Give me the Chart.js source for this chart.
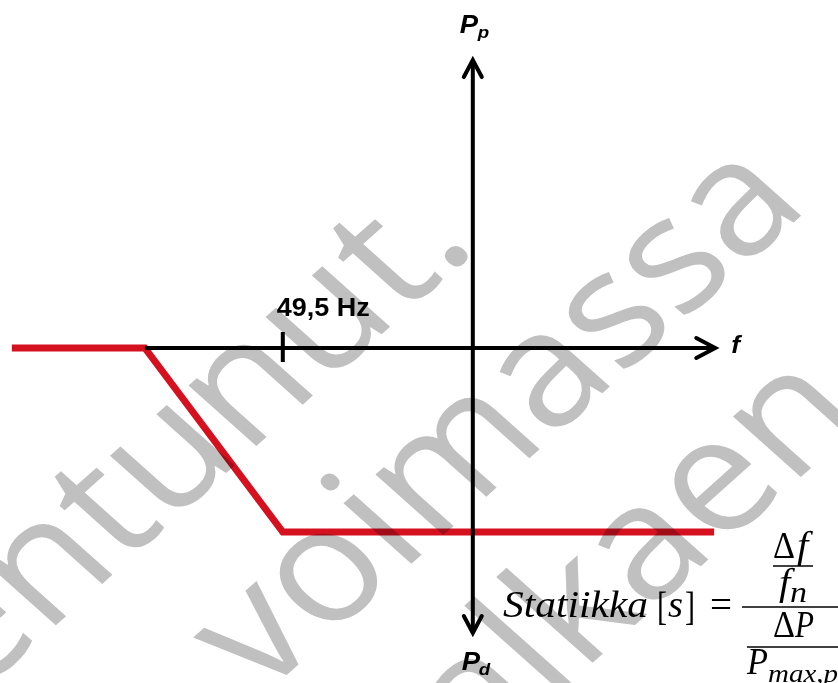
<!DOCTYPE html>
<html>
<head>
<meta charset="utf-8">
<script src="https://cdn.jsdelivr.net/npm/chart.js@4.4.1/dist/chart.umd.min.js"></script>
<style>
  html, body { margin: 0; padding: 0; background: #ffffff; }
  #wrap { width: 838px; height: 683px; position: relative; }
</style>
</head>
<body>
<div id="wrap"><canvas id="c" width="838" height="683"></canvas></div>
<script>
// ---- data (frequency in Hz, power in p.u. of P_max) ----
const redFreq  = [48.787, 49.137, 49.5, 50.635];
const redPower = [0, 0, -1, -1];
const fAxisFreq  = [49.137, 50.638];
const fAxisPower = [0, 0];
const pAxisFreq  = [50, 50];
const pAxisPower = [1.565, -1.549];
const tickFreq  = [49.5, 49.5];
const tickPower = [0.087, -0.076];
const tickLabel = '49,5 Hz';
const xRange = [48.7558, 50.961];
const yRange = [-1.8207, 1.8913];
const watermark = ['Vanhentunut.', 'voimassa', 'alkaen'];

const pts = (xs, ys) => xs.map((x, i) => ({ x: x, y: ys[i] }));

function stretchText(ctx, text, x, y, font, targetW) {
  ctx.save();
  ctx.font = font;
  const w = ctx.measureText(text).width;
  const k = targetW ? targetW / w : 1.1;
  ctx.translate(x, y);
  ctx.scale(k, 1);
  ctx.fillText(text, 0, 0);
  ctx.restore();
}

const overlay = {
  id: 'overlay',
  afterDatasetsDraw(chart) {
    const ctx = chart.ctx;
    const xs = chart.scales.x, ys = chart.scales.y;
    // arrowheads
    ctx.save();
    ctx.strokeStyle = '#000';
    ctx.lineWidth = 4;
    ctx.lineCap = 'round';
    ctx.lineJoin = 'miter';
    const rx = xs.getPixelForValue(fAxisFreq[1]), ry = ys.getPixelForValue(fAxisPower[1]);
    ctx.beginPath(); ctx.moveTo(rx - 19, ry - 10); ctx.lineTo(rx, ry); ctx.lineTo(rx - 19, ry + 10); ctx.stroke();
    const ux = xs.getPixelForValue(pAxisFreq[0]), uy = ys.getPixelForValue(pAxisPower[0]);
    ctx.beginPath(); ctx.moveTo(ux - 9, uy + 17); ctx.lineTo(ux, uy); ctx.lineTo(ux + 9, uy + 17); ctx.stroke();
    const dx = xs.getPixelForValue(pAxisFreq[1]), dy = ys.getPixelForValue(pAxisPower[1]);
    ctx.beginPath(); ctx.moveTo(dx - 9, dy - 17); ctx.lineTo(dx, dy); ctx.lineTo(dx + 9, dy - 17); ctx.stroke();
    ctx.restore();

    // axis labels
    ctx.save();
    ctx.fillStyle = '#000';
    ctx.textBaseline = 'alphabetic';
    ctx.textAlign = 'left';
    const tx = xs.getPixelForValue(tickFreq[0]);
    stretchText(ctx, tickLabel, tx - 6, 316, 'bold 25px "Liberation Sans", Arial', 93);
    stretchText(ctx, 'P', ux - 13, 33, 'italic bold 25px "Liberation Sans", Arial');
    stretchText(ctx, 'p', ux + 5, 38, 'italic bold 17px "Liberation Sans", Arial');
    stretchText(ctx, 'P', dx - 11, 670, 'italic bold 25px "Liberation Sans", Arial');
    stretchText(ctx, 'd', dx + 6, 675, 'italic bold 17px "Liberation Sans", Arial');
    stretchText(ctx, 'f', rx + 16, 353, 'italic bold 24px "Liberation Sans", Arial');
    ctx.restore();

    // formula
    ctx.save();
    ctx.fillStyle = '#000';
    ctx.strokeStyle = '#000';
    const it = 'italic 37px "Liberation Serif", "DejaVu Serif", serif';
    const up = '37px "Liberation Serif", "DejaVu Serif", serif';
    stretchText(ctx, 'Statiikka', 503, 617, it, 145);
    stretchText(ctx, '[', 657, 620, '40px "Liberation Serif", serif', 10);
    stretchText(ctx, 's', 668, 617, it, 15);
    stretchText(ctx, ']', 685, 620, '40px "Liberation Serif", serif', 10);
    stretchText(ctx, '=', 710, 617, up, 22);
    ctx.lineWidth = 1.6;
    ctx.beginPath(); ctx.moveTo(742, 607); ctx.lineTo(840, 607); ctx.stroke();
    stretchText(ctx, '\u0394', 773, 558, up, 22);
    stretchText(ctx, 'f', 797, 558, it);
    ctx.beginPath(); ctx.moveTo(773, 566); ctx.lineTo(813, 566); ctx.stroke();
    stretchText(ctx, 'f', 779, 595, it);
    stretchText(ctx, 'n', 790, 602, 'italic 30px "Liberation Serif", serif', 17);
    stretchText(ctx, '\u0394', 773, 637, up, 22);
    stretchText(ctx, 'P', 795, 637, it, 19);
    ctx.beginPath(); ctx.moveTo(747, 647); ctx.lineTo(840, 647); ctx.stroke();
    stretchText(ctx, 'P', 747, 674, it, 21);
    stretchText(ctx, 'max,p', 768, 682, 'italic 26px "Liberation Serif", serif', 70);
    ctx.restore();
  },
  afterDraw(chart) {
    const ctx = chart.ctx;
    ctx.save();
    ctx.globalCompositeOperation = 'multiply';
    ctx.fillStyle = '#c0c0c0';
    ctx.font = '500 160px "Open Sans", "Noto Sans", sans-serif';
    ctx.textBaseline = 'alphabetic';
    ctx.scale(1.12, 1);
    const draw = (text, x, y, align) => {
      ctx.save();
      ctx.translate(x, y);
      ctx.rotate(-Math.PI / 4);
      ctx.textAlign = align;
      ctx.fillText(text, 0, 0);
      ctx.restore();
    };
    draw(watermark[0], 428, 247, 'right');
    draw(watermark[1], 233, 698, 'left');
    draw(watermark[2], 428, 764, 'left');
    ctx.restore();
  }
};

new Chart(document.getElementById('c'), {
  type: 'scatter',
  data: {
    datasets: [
      { data: pts(pAxisFreq, pAxisPower), showLine: true, borderColor: '#000', borderWidth: 4, pointRadius: 0, borderCapStyle: 'butt', order: 1 },
      { data: pts(fAxisFreq, fAxisPower), showLine: true, borderColor: '#000', borderWidth: 4, pointRadius: 0, borderCapStyle: 'butt', order: 2 },
      { data: pts(tickFreq, tickPower), showLine: true, borderColor: '#000', borderWidth: 4, pointRadius: 0, borderCapStyle: 'butt', order: 3 },
      { data: pts(redFreq, redPower), showLine: true, borderColor: '#d51120', borderWidth: 7, pointRadius: 0, borderJoinStyle: 'miter', borderCapStyle: 'butt', order: 4 }
    ]
  },
  options: {
    responsive: false,
    animation: false,
    devicePixelRatio: 1,
    layout: { padding: 0 },
    plugins: { legend: { display: false }, tooltip: { enabled: false }, title: { display: false } },
    events: [],
    scales: {
      x: { type: 'linear', display: false, min: xRange[0], max: xRange[1] },
      y: { type: 'linear', display: false, min: yRange[0], max: yRange[1] }
    }
  },
  plugins: [overlay]
});
</script>
</body>
</html>
